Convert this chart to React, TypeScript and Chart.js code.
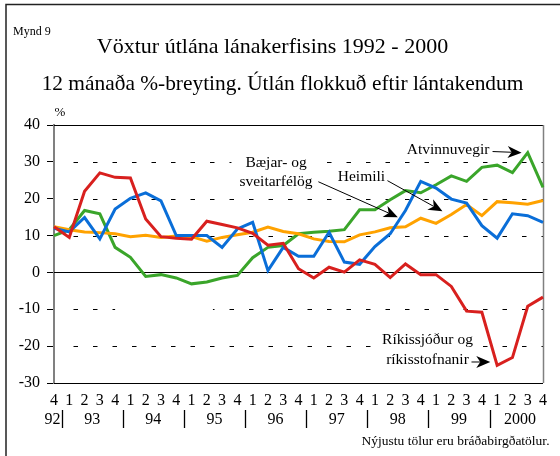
import React, { useEffect, useRef } from "react";
import { Chart, registerables } from "chart.js";

Chart.register(...registerables);

// ---------- data ----------
const quarterLabels = [
  "4",
  "1", "2", "3", "4",
  "1", "2", "3", "4",
  "1", "2", "3", "4",
  "1", "2", "3", "4",
  "1", "2", "3", "4",
  "1", "2", "3", "4",
  "1", "2", "3", "4",
  "1", "2", "3", "4",
];
const yearLabels = ["92", "93", "94", "95", "96", "97", "98", "99", "2000"];
const yTicks = [-30, -20, -10, 0, 10, 20, 30, 40];

// Ríkissjóður og ríkisstofnanir (red)
const rikissjodur = [
  12.4, 9.5, 22.0, 27.0, 25.8, 25.6, 14.5, 9.7, 9.3, 9.0, 13.9, 13.0, 12.1,
  10.6, 7.4, 7.9, 1.0, -1.5, 1.4, 0.1, 3.4, 2.2, -1.4, 2.3, -0.6, -0.6, -3.8,
  -10.5, -10.8, -25.2, -23.1, -9.2, -6.7,
];
// Bæjar- og sveitarfélög (blue)
const sveitarfelog = [
  12.0, 11.0, 14.9, 9.1, 17.2, 20.1, 21.6, 19.4, 10.0, 10.0, 10.0, 6.8, 11.8,
  13.6, 0.5, 6.8, 4.4, 4.4, 10.9, 2.8, 2.2, 7.0, 10.5, 16.8, 24.7, 22.9, 19.9,
  18.8, 12.7, 9.3, 15.9, 15.4, 13.6,
];
// Heimili (orange)
const heimili = [
  12.4, 11.6, 11.0, 10.8, 10.5, 9.7, 10.1, 9.5, 9.9, 9.7, 8.5, 9.5, 10.2,
  10.9, 12.3, 11.1, 10.5, 9.1, 8.4, 8.3, 10.2, 11.0, 12.1, 12.4, 14.7, 13.3,
  15.7, 18.4, 15.4, 19.2, 18.9, 18.5, 19.5,
];
// Atvinnuvegir (green)
const atvinnuvegir = [
  10.0, 11.6, 16.8, 15.9, 6.8, 4.1, -1.1, -0.6, -1.5, -3.1, -2.6, -1.5, -0.8,
  4.0, 6.8, 7.3, 10.5, 10.9, 11.2, 11.6, 17.0, 17.0, 19.7, 22.2, 21.6, 23.8,
  26.2, 24.7, 28.5, 29.1, 27.1, 32.5, 23.1,
];

const SERIF = '"Liberation Serif", "Times New Roman", "DejaVu Serif", serif';

type Annot = {
  lines: string[];
  at: [number, number]; // [index, value] of first line centre
  gap: number;
  arrow?: [[number, number], [number, number]];
  box?: boolean;
};

const annotations: Annot[] = [
  { lines: ["Bæjar- og", "sveitarfélög"], at: [14.53, 29.8], gap: 19.5, arrow: [[17.3, 24.6], [22.5, 15.0]], box: true },
  { lines: ["Heimili"], at: [20.12, 25.8], gap: 0, arrow: [[21.82, 24.9], [25.42, 16.6]], box: true },
  { lines: ["Atvinnuvegir"], at: [25.79, 33.2], gap: 0, arrow: [[28.7, 32.8], [30.6, 32.5]], box: true },
  { lines: ["Ríkissjóður og", "ríkisstofnanir"], at: [24.44, -18.4], gap: 19.5, arrow: [[27.32, -24.3], [28.55, -24.3]], box: true },
];

function drawArrow(ctx: CanvasRenderingContext2D, x1: number, y1: number, x2: number, y2: number) {
  const ang = Math.atan2(y2 - y1, x2 - x1);
  const len = 14;
  const half = 6;
  const back = 10;
  ctx.save();
  ctx.strokeStyle = "#000";
  ctx.fillStyle = "#000";
  ctx.lineWidth = 1;
  ctx.beginPath();
  ctx.moveTo(x1, y1);
  ctx.lineTo(x2 - Math.cos(ang) * back, y2 - Math.sin(ang) * back);
  ctx.stroke();
  ctx.translate(x2, y2);
  ctx.rotate(ang);
  ctx.beginPath();
  ctx.moveTo(0, 0);
  ctx.lineTo(-len, -half);
  ctx.lineTo(-back, 0);
  ctx.lineTo(-len, half);
  ctx.closePath();
  ctx.fill();
  ctx.restore();
}

const decorPlugin = {
  id: "decor",
  beforeDatasetsDraw(chart: any) {
    const { ctx, chartArea, scales } = chart;
    const y = scales.y;
    const x = scales.x;
    ctx.save();
    // horizontal grid lines
    for (const v of yTicks) {
      const py = Math.round(y.getPixelForValue(v)) + 0.5;
      ctx.beginPath();
      ctx.strokeStyle = "#000";
      ctx.lineWidth = 1;
      if (v === 0 || v === y.max || v === y.min) {
        ctx.setLineDash([]);
        ctx.moveTo(chartArea.left, py);
      } else {
        ctx.setLineDash([4.5, 15]);
        ctx.moveTo(chartArea.left + 19.5, py);
      }
      ctx.lineTo(chartArea.right, py);
      ctx.stroke();
    }
    ctx.setLineDash([]);
    // white mask over part of -10 grid line
    {
      const py = y.getPixelForValue(-10);
      const xa = x.getPixelForValue(4.0);
      const xb = x.getPixelForValue(10.4);
      ctx.fillStyle = "#fff";
      ctx.fillRect(xa, py - 4, xb - xa, 8);
    }
    // white boxes behind annotations
    ctx.font = `15.5px ${SERIF}`;
    for (const a of annotations) {
      if (!a.box) continue;
      const cx = x.getPixelForValue(a.at[0]);
      const cy = y.getPixelForValue(a.at[1]);
      let w = 0;
      for (const l of a.lines) w = Math.max(w, ctx.measureText(l).width);
      const h = (a.lines.length - 1) * a.gap + 18;
      ctx.fillStyle = "#fff";
      ctx.fillRect(cx - w / 2 - 8, cy - 10, w + 16, h + 2);
    }
    // right border
    ctx.strokeStyle = "#808080";
    ctx.lineWidth = 1.5;
    ctx.beginPath();
    ctx.moveTo(chartArea.right + 0.5, chartArea.top);
    ctx.lineTo(chartArea.right + 0.5, chartArea.bottom);
    ctx.stroke();
    ctx.restore();
  },
  afterDraw(chart: any) {
    const { ctx, chartArea, scales } = chart;
    const y = scales.y;
    const x = scales.x;
    ctx.save();
    ctx.fillStyle = "#000";
    // frame
    ctx.strokeStyle = "#222";
    ctx.lineWidth = 1.5;
    ctx.beginPath();
    ctx.moveTo(6, 460);
    ctx.lineTo(6, 4.5);
    ctx.lineTo(560, 4.5);
    ctx.stroke();

    // headings
    ctx.textBaseline = "middle";
    ctx.textAlign = "left";
    ctx.font = `12px ${SERIF}`;
    ctx.fillText("Mynd 9", 13, 32);
    ctx.textAlign = "center";
    ctx.font = `22px ${SERIF}`;
    ctx.fillText("Vöxtur útlána lánakerfisins 1992 - 2000", 272.5, 47.5);
    ctx.font = `21.4px ${SERIF}`;
    ctx.fillText("12 mánaða %-breyting. Útlán flokkuð eftir lántakendum", 282.5, 84);
    ctx.font = `13px ${SERIF}`;
    ctx.fillText("%", 60, 113);

    // year labels and separators
    ctx.font = `16px ${SERIF}`;
    const yy = chartArea.bottom + 36.5;
    for (let k = 0; k < yearLabels.length; k++) {
      let cx: number;
      if (k === 0) {
        cx = x.getPixelForValue(0) - 1.5;
      } else {
        const s = 1 + 4 * (k - 1);
        cx = (x.getPixelForValue(s) + x.getPixelForValue(s + 3)) / 2;
        const sep = Math.round((x.getPixelForValue(s - 1) + x.getPixelForValue(s)) / 2) + 0.5;
        ctx.strokeStyle = "#000";
        ctx.lineWidth = 1.3;
        ctx.beginPath();
        ctx.moveTo(sep, chartArea.bottom + 27);
        ctx.lineTo(sep, chartArea.bottom + 45);
        ctx.stroke();
      }
      ctx.fillText(yearLabels[k], cx, yy);
    }

    // footer
    ctx.textAlign = "right";
    ctx.font = `13.5px ${SERIF}`;
    ctx.fillText("Nýjustu tölur eru bráðabirgðatölur.", 549.5, 441);

    // annotations
    ctx.textAlign = "center";
    ctx.font = `15.5px ${SERIF}`;
    for (const a of annotations) {
      const cx = x.getPixelForValue(a.at[0]);
      const cy = y.getPixelForValue(a.at[1]);
      a.lines.forEach((l, i) => ctx.fillText(l, cx, cy + i * a.gap));
      if (a.arrow) {
        const [[i1, v1], [i2, v2]] = a.arrow;
        drawArrow(ctx, x.getPixelForValue(i1), y.getPixelForValue(v1), x.getPixelForValue(i2), y.getPixelForValue(v2));
      }
    }
    ctx.restore();
  },
};

export default function App() {
  const ref = useRef<HTMLCanvasElement | null>(null);
  useEffect(() => {
    document.body.style.margin = "0";
    const canvas = ref.current;
    if (!canvas) return;
    const mk = (label: string, data: number[], color: string, order: number) => ({
      label,
      data,
      borderColor: color,
      backgroundColor: color,
      borderWidth: 3,
      pointRadius: 0,
      tension: 0,
      fill: false,
      order,
    });
    const chart = new Chart(canvas, {
      type: "line",
      data: {
        labels: quarterLabels,
        datasets: [
          mk("Atvinnuvegir", atvinnuvegir, "#3aa52a", 4),
          mk("Heimili", heimili, "#ffa200", 3),
          mk("Bæjar- og sveitarfélög", sveitarfelog, "#0a6ed8", 2),
          mk("Ríkissjóður og ríkisstofnanir", rikissjodur, "#d8201e", 1),
        ],
      },
      options: {
        responsive: false,
        animation: false,
        layout: { padding: { left: 0, right: 17, top: 125, bottom: 0 } },
        plugins: {
          legend: { display: false },
          tooltip: { enabled: false },
          title: { display: false },
        },
        scales: {
          x: {
            type: "category",
            offset: false,
            grid: { display: false, drawTicks: false },
            border: { display: false },
            ticks: {
              color: "#000",
              font: { family: SERIF, size: 16 },
              padding: 8,
              maxRotation: 0,
              autoSkip: false,
            },
            afterFit: (s: any) => {
              s.height = 73;
            },
          },
          y: {
            min: -30,
            max: 40,
            grid: {
              drawOnChartArea: false,
              drawTicks: true,
              tickLength: 7,
              color: "#000",
            },
            border: { display: true, color: "#808080", width: 2 },
            ticks: {
              stepSize: 10,
              color: "#000",
              font: { family: SERIF, size: 16 },
              padding: 7,
            },
            afterFit: (s: any) => {
              s.width = 54;
            },
          },
        },
      },
      plugins: [decorPlugin],
    });
    return () => chart.destroy();
  }, []);
  return (
    <canvas ref={ref} width={560} height={456} style={{ display: "block", width: 560, height: 456 }} />
  );
}
